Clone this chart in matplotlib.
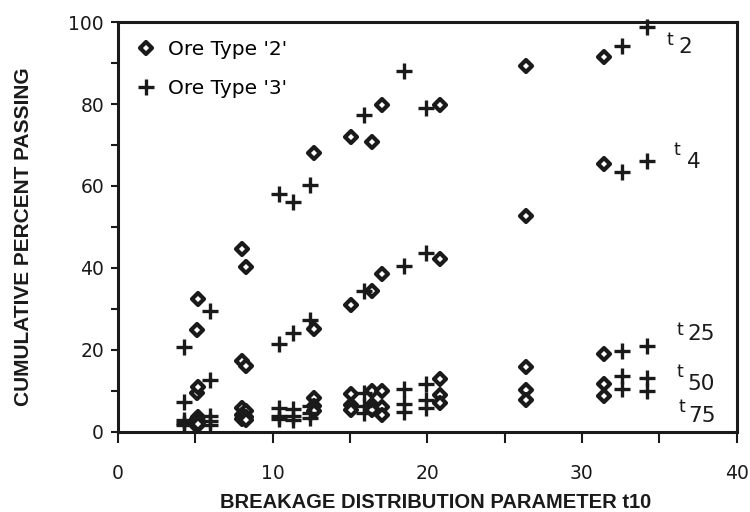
import matplotlib
matplotlib.use("Agg")
import matplotlib.pyplot as plt
from matplotlib.markers import MarkerStyle

# Ore type '2' : t10 and cumulative percent passing at t2, t4, t25, t50, t75
ore2_t10 = [5.1, 5.2, 8.0, 8.3, 12.7, 15.1, 16.4, 17.1, 20.8, 26.4, 31.4]
ore2_t2 = [24.8, 32.4, 44.7, 40.2, 68.1, 72.0, 70.7, 79.8, 79.8, 89.3, 91.5]
ore2_t4 = [9.6, 11.0, 17.3, 16.0, 25.0, 30.9, 34.5, 38.5, 42.3, 52.6, 65.4]
ore2_t25 = [3.2, 3.6, 5.8, 5.0, 8.4, 9.3, 10.0, 10.0, 13.0, 15.9, 19.0]
ore2_t50 = [2.3, 2.6, 4.2, 3.7, 6.4, 6.5, 6.6, 6.0, 8.9, 10.2, 11.8]
ore2_t75 = [1.5, 1.9, 3.2, 2.8, 5.0, 5.3, 5.4, 4.2, 7.1, 7.9, 8.8]

# Ore type '3'
ore3_t10 = [4.25, 5.96, 10.4, 11.3, 12.4, 15.9, 18.5, 19.9, 32.6, 34.2]
ore3_t2 = [20.7, 29.4, 58.1, 56.1, 60.2, 77.2, 88.0, 79.0, 94.1, 98.8]
ore3_t4 = [7.3, 12.6, 21.5, 24.2, 27.2, 34.3, 40.4, 43.7, 63.4, 66.2]
ore3_t25 = [3.0, 3.8, 5.8, 5.6, 6.3, 9.6, 10.5, 11.8, 19.8, 21.0]
ore3_t50 = [2.2, 2.6, 4.0, 3.8, 4.6, 6.4, 6.8, 7.9, 13.6, 13.2]
ore3_t75 = [1.6, 1.6, 3.2, 3.0, 3.4, 4.6, 4.8, 5.9, 10.6, 10.0]

# curve labels at the right
curve_subs = ["2", "4", "25", "50", "75"]
# where the "t" and its subscript sit (data coords, text baselines)
t_pos = [(35.5, 94.4), (35.9, 67.6), (36.1, 23.7), (36.1, 13.4), (36.25, 4.9)]
sub_pos = [(36.25, 92.4), (36.8, 64.4), (36.8, 22.4), (36.8, 10.2), (36.9, 2.4)]

ink = "#1a1a1a"

fig = plt.figure(figsize=(7.5, 5.12), dpi=100)
ax = fig.add_axes([0.1573, 0.1563, 0.8247, 0.8007])

diamond = MarkerStyle("D", joinstyle="round")
dkw = dict(linestyle="none", marker=diamond, markersize=6.5, mfc="white",
           mec=ink, mew=3.0, clip_on=False)
pkw = dict(linestyle="none", marker="+", markersize=11, mec=ink,
           mew=2.4, clip_on=False)

first = True
for ys in [ore2_t2, ore2_t4, ore2_t25, ore2_t50, ore2_t75]:
    ax.plot(ore2_t10, ys, label="Ore Type '2'" if first else None, **dkw)
    first = False
first = True
for ys in [ore3_t2, ore3_t4, ore3_t25, ore3_t50, ore3_t75]:
    ax.plot(ore3_t10, ys, label="Ore Type '3'" if first else None, **pkw)
    first = False

for sub, (tx, ty), (sx, sy) in zip(curve_subs, t_pos, sub_pos):
    ax.text(tx, ty, "t", fontsize=12.5, color=ink, ha="left", va="baseline",
            family="DejaVu Sans")
    ax.text(sx, sy, sub, fontsize=15.5, color=ink, ha="left", va="baseline",
            family="DejaVu Sans")

ax.set_xlim(0, 40)
ax.set_ylim(0, 100)
ax.set_xticks(range(0, 41, 10))
ax.set_xticks(range(0, 41, 5), minor=True)
ax.set_yticks(range(0, 101, 20))
ax.set_yticks(range(0, 101, 10), minor=True)
ax.tick_params(which="both", direction="out", width=1.5, color=ink)
ax.tick_params(axis="x", which="both", length=8, pad=15, labelsize=13.5)
ax.tick_params(axis="y", which="both", length=5, pad=5, labelsize=13.5)
for lab in ax.get_xticklabels() + ax.get_yticklabels():
    lab.set_family("DejaVu Sans")
    lab.set_color(ink)
for sp in ax.spines.values():
    sp.set_linewidth(2.2)
    sp.set_color(ink)

ax.set_xlabel("BREAKAGE DISTRIBUTION PARAMETER t10", fontsize=14.5,
              fontweight="bold", family="Liberation Sans", color=ink)
ax.xaxis.set_label_coords(0.513, -0.148)
ax.set_ylabel("CUMULATIVE PERCENT PASSING", fontsize=15, fontweight="bold",
              family="Liberation Sans", color=ink)
ax.yaxis.set_label_coords(-0.137, 0.477)

leg = ax.legend(loc="upper left", frameon=False,
                prop={"family": "DejaVu Sans", "size": 14.5},
                handletextpad=0.6, labelspacing=1.0, borderaxespad=0.5,
                handlelength=1.0)

fig.savefig("out.png", dpi=100)
